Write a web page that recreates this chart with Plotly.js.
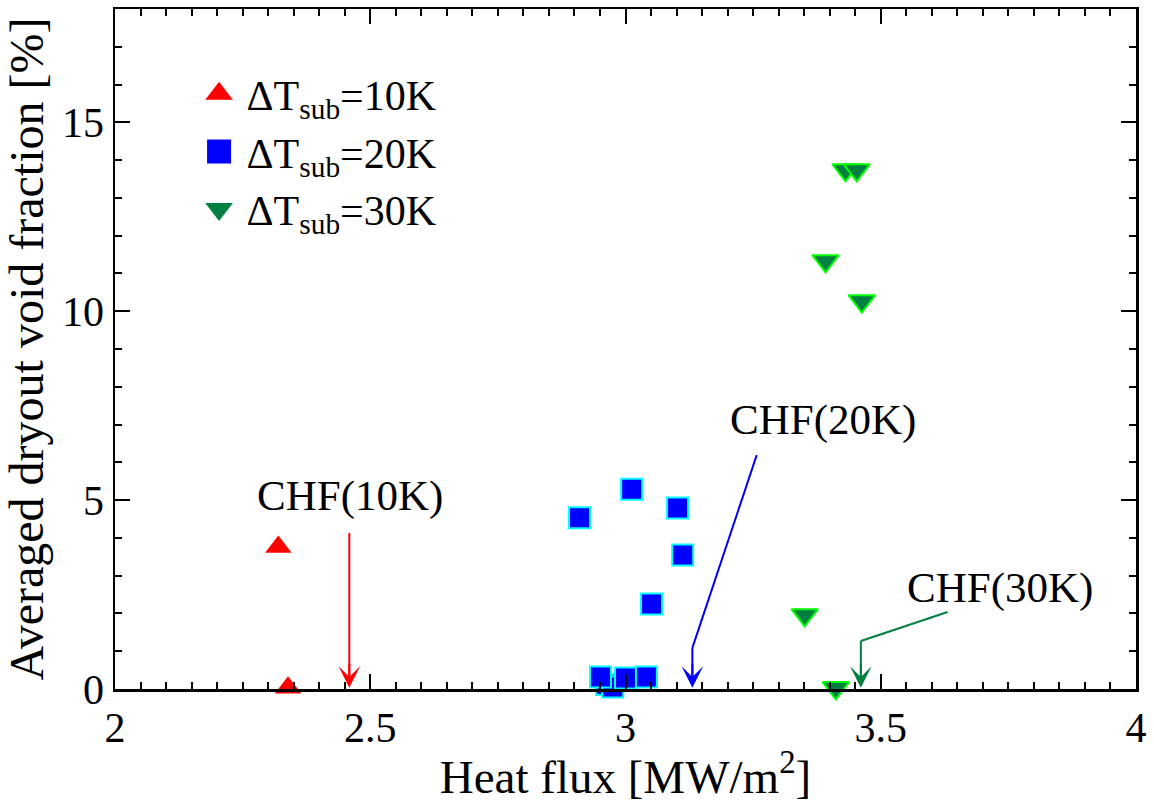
<!DOCTYPE html>
<html>
<head>
<meta charset="utf-8">
<script src="https://cdn.plot.ly/plotly-3.0.1.min.js"></script>
<style>
  html, body { margin: 0; padding: 0; background: #fff; }
  #chart { width: 1154px; height: 803px; }
</style>
</head>
<body>
<div id="chart"></div>
<script>
// ---- data ----
const sub10_x = [2.320, 2.339];
const sub10_y = [3.76, 0.03];

const sub20_x = [2.910, 3.012, 3.102, 3.112, 3.051, 2.963, 2.975, 2.951, 3.000, 3.041];
const sub20_y = [4.53, 5.29, 4.79, 3.55, 2.25, 0.12, 0.05, 0.32, 0.29, 0.32];

const sub30_x = [3.431, 3.453, 3.392, 3.463, 3.351, 3.412];
const sub30_y = [13.74, 13.74, 11.33, 10.27, 1.96, 0.03];

const seriesNames = ['ΔT<sub>sub</sub>=10K', 'ΔT<sub>sub</sub>=20K', 'ΔT<sub>sub</sub>=30K'];

// CHF markers
const chfLabels = ['CHF(10K)', 'CHF(20K)', 'CHF(30K)'];
const chfX = [2.459, 3.131, 3.461];          // CHF values (arrow tips)
const chfTipY = 0.03;
const chfLabelX = [2.461, 3.386, 3.733];     // label positions
const chfLabelY = [5.12, 7.12, 2.68];
const chfBendY = [4.13, 1.09, 1.27];         // where vertical arrow begins
const chfLeaderX = [null, 3.257, 3.631];     // leader line start (near label)
const chfLeaderY = [null, 6.19, 2.04];
const chfColors = ['#ff0000', '#0000ff', '#008040'];

const xTicks = [2, 2.5, 3, 3.5, 4];
const yTicks = [0, 5, 10, 15];

// ---- traces ----
const FONT = '"Liberation Serif", "Times New Roman", serif';
const traces = [];
// legend-carrying traces (no outline)
traces.push({x: sub10_x, y: sub10_y, mode: 'markers', name: seriesNames[0], type: 'scatter', cliponaxis: false,
  marker: {symbol: 'triangle-up', size: 23, color: '#ff0000', line: {width: 0}}});
traces.push({x: sub20_x, y: sub20_y, mode: 'markers', name: seriesNames[1], type: 'scatter', cliponaxis: false,
  marker: {symbol: 'square', size: 21, color: '#0000ff', line: {width: 0}}});
traces.push({x: sub30_x, y: sub30_y, mode: 'markers', name: seriesNames[2], type: 'scatter', cliponaxis: false,
  marker: {symbol: 'triangle-down', size: 23, color: '#008040', line: {width: 0}}});
// outlined overlays
traces.push({x: sub20_x, y: sub20_y, mode: 'markers', showlegend: false, type: 'scatter', cliponaxis: false, hoverinfo: 'skip',
  marker: {symbol: 'square', size: 21, color: '#0000ff', line: {width: 2, color: '#00ffff'}}});
traces.push({x: sub30_x, y: sub30_y, mode: 'markers', showlegend: false, type: 'scatter', cliponaxis: false, hoverinfo: 'skip',
  marker: {symbol: 'triangle-down', size: 23, color: '#008040', line: {width: 2, color: '#00ff00'}}});

// ---- annotations & shapes ----
const annotations = [];
const shapes = [];
for (let i = 0; i < chfLabels.length; i++) {
  annotations.push({x: chfLabelX[i], y: chfLabelY[i], xref: 'x', yref: 'y', text: chfLabels[i], showarrow: false,
    font: {family: FONT, size: 43, color: '#000'}, xanchor: 'center', yanchor: 'middle'});
  // vertical shaft
  shapes.push({type: 'line', xref: 'x', yref: 'y', x0: chfX[i], y0: chfBendY[i], x1: chfX[i], y1: chfTipY + 0.3,
    line: {color: chfColors[i], width: 2}});
  // arrow head
  annotations.push({x: chfX[i], y: chfTipY, xref: 'x', yref: 'y', ax: chfX[i], ay: chfTipY + 0.9, axref: 'x', ayref: 'y',
    text: ' ', showarrow: true, arrowhead: 3, arrowsize: 1.8, arrowwidth: 2, arrowcolor: chfColors[i], standoff: 0, startstandoff: 0});
  if (chfLeaderX[i] !== null) {
    shapes.push({type: 'line', xref: 'x', yref: 'y', x0: chfLeaderX[i], y0: chfLeaderY[i], x1: chfX[i], y1: chfBendY[i],
      line: {color: chfColors[i], width: 2}});
  }
}

const axisCommon = {
  showline: true, linecolor: '#000', linewidth: 2.5, mirror: 'allticks',
  ticks: 'inside', ticklen: 15, tickwidth: 2, tickcolor: '#000',
  showgrid: false, zeroline: false,
  tickfont: {family: FONT, size: 42, color: '#000'}
};

const layout = {
  width: 1154, height: 803,
  paper_bgcolor: '#fff', plot_bgcolor: '#fff',
  margin: {l: 115, r: 18, t: 9, b: 114},
  showlegend: true,
  legend: {x: 0.075, y: 0.925, xanchor: 'left', yanchor: 'top', bgcolor: 'rgba(0,0,0,0)',
    font: {family: FONT, size: 42, color: '#000'}, tracegroupgap: 0, itemwidth: 45},
  xaxis: Object.assign({}, axisCommon, {
    range: [2, 4], tickvals: xTicks, ticktext: xTicks.map(String),
    minor: {dtick: 0.05, ticks: 'inside', ticklen: 7, tickwidth: 2, tickcolor: '#000', showgrid: false},
    title: {text: 'Heat flux [MW/m<sup>2</sup>]', font: {family: FONT, size: 47, color: '#000'}, standoff: 8}
  }),
  yaxis: Object.assign({}, axisCommon, {
    range: [0, 18], tickvals: yTicks, ticktext: yTicks.map(String),
    minor: {dtick: 1, ticks: 'inside', ticklen: 7, tickwidth: 2, tickcolor: '#000', showgrid: false},
    title: {text: 'Averaged dryout void fraction [%]', font: {family: FONT, size: 48, color: '#000'}, standoff: 8}
  }),
  annotations: annotations,
  shapes: shapes
};

Plotly.newPlot('chart', traces, layout, {staticPlot: true}).then(function () {
  // enlarge legend symbols to match the data markers
  document.querySelectorAll('.legend .legendpoints path.scatterpts').forEach(function (p) {
    const t = p.getAttribute('transform') || '';
    p.setAttribute('transform', t + ' scale(1.5)');
  });
});
</script>
</body>
</html>
